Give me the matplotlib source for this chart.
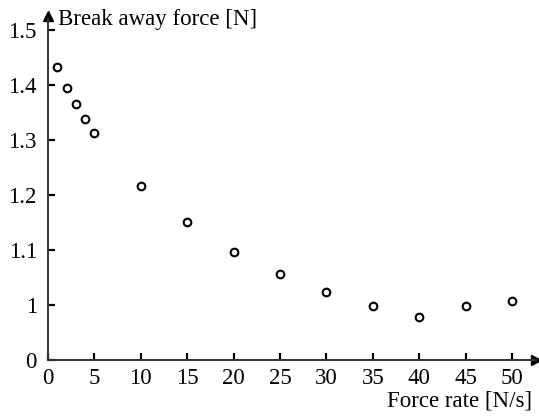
import matplotlib
matplotlib.use("Agg")
import matplotlib.pyplot as plt

# measured break away force vs force rate
force_rate = [1, 2, 3, 4, 5, 10, 15, 20, 25, 30, 35, 40, 45, 50]
break_force = [1.433, 1.395, 1.365, 1.338, 1.313, 1.216, 1.151, 1.096,
               1.056, 1.024, 0.998, 0.978, 0.998, 1.007]

x_ticks = [0, 5, 10, 15, 20, 25, 30, 35, 40, 45, 50]
# broken y axis: the "0" tick sits one step below 1
y_ticks = [0.9, 1.0, 1.1, 1.2, 1.3, 1.4, 1.5]
y_labels = ["0", "1", "1.1", "1.2", "1.3", "1.4", "1.5"]

plt.rcParams["font.family"] = ["Liberation Serif", "DejaVu Serif"]

W, H = 539, 419
fig = plt.figure(figsize=(W / 100, H / 100), dpi=100)
x0, x1 = 48, 536
y0, y1 = 360, 19
ax = fig.add_axes([x0 / W, 1 - y0 / H, (x1 - x0) / W, (y0 - y1) / H])

ax.plot(force_rate, break_force, "o", ms=5.5, mfc="white", mec="black",
        mew=1.5, clip_on=False)

ax.set_xlim(0, (x1 - x0) / 9.28)
ax.set_ylim(0.9, 0.9 + (y0 - y1) / 550)
ax.set_xticks(x_ticks)
ax.set_yticks(y_ticks)
ax.set_yticklabels(y_labels)

for s in ["top", "right"]:
    ax.spines[s].set_visible(False)
for s in ["left", "bottom"]:
    ax.spines[s].set_linewidth(1.4)
    ax.spines[s].set_color("#333333")

ax.tick_params(direction="in", length=5, width=1.6, labelsize=16.5,
               colors="black")
ax.tick_params(axis="x", pad=6)
ax.tick_params(axis="y", pad=8)

# arrow heads at the axis ends
ax.plot(1, 0, ">", color="black", ms=7, transform=ax.transAxes, clip_on=False)
ax.plot(0, 1.01, "^", color="black", ms=7, transform=ax.transAxes, clip_on=False)

fig.text(58 / W, 1 - 25 / H, "Break away force [N]", fontsize=16.5,
         ha="left", va="baseline")
fig.text(532 / W, 1 - 406 / H, "Force rate [N/s]", fontsize=16.5,
         ha="right", va="baseline")

fig.savefig("out.png", dpi=100)
